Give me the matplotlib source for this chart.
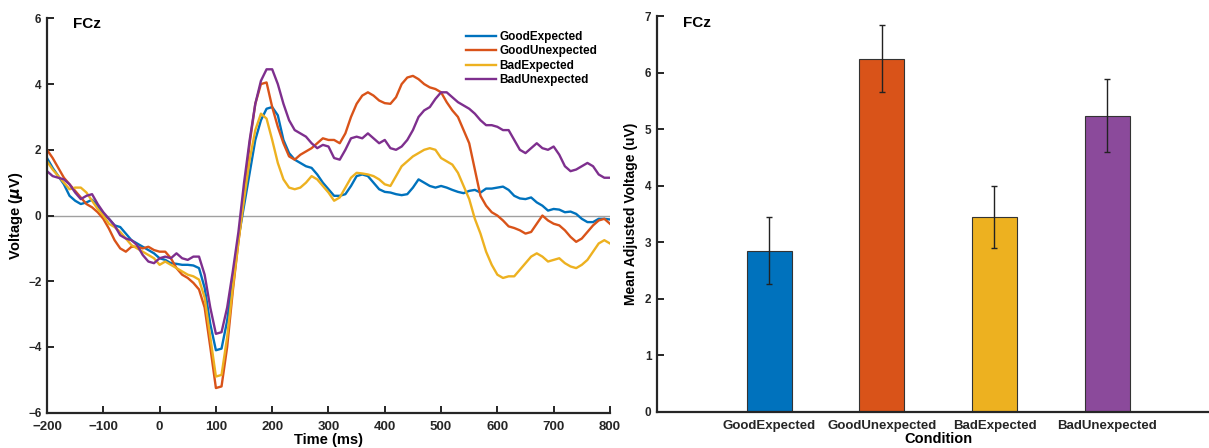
import numpy as np
import matplotlib
matplotlib.use("Agg")
import matplotlib.pyplot as plt

plt.rcParams['font.family'] = ['Liberation Sans', 'DejaVu Sans']
plt.rcParams['font.weight'] = 'bold'
plt.rcParams['axes.labelweight'] = 'bold'

# ERP waveforms at FCz, sampled every 10 ms
time_ms = list(range(-200, 810, 10))

good_expected = [
    1.75, 1.45, 1.2, 0.95, 0.6, 0.45, 0.35, 0.4, 0.48, 0.3,
    0.05, -0.1, -0.3, -0.35, -0.55, -0.75, -0.85, -0.95, -1.05, -1.15,
    -1.3, -1.35, -1.45, -1.47, -1.5, -1.5, -1.52, -1.6, -2.2, -3.3,
    -4.1, -4.05, -3.2, -1.9, -0.7, 0.3, 1.3, 2.3, 2.9, 3.25,
    3.3, 3.05, 2.3, 1.9, 1.7, 1.6, 1.5, 1.45, 1.25, 1.0,
    0.8, 0.6, 0.6, 0.65, 0.9, 1.2, 1.25, 1.2, 1.0, 0.8,
    0.72, 0.7, 0.65, 0.62, 0.65, 0.85, 1.1, 1.0, 0.9, 0.85,
    0.9, 0.85, 0.78, 0.72, 0.68, 0.75, 0.78, 0.7, 0.82, 0.82,
    0.85, 0.88, 0.78, 0.6, 0.52, 0.5, 0.55, 0.4, 0.3, 0.15,
    0.2, 0.18, 0.1, 0.12, 0.05, -0.1, -0.2, -0.2, -0.1, -0.1,
    -0.12,
]

good_unexpected = [
    2.0, 1.75, 1.45, 1.15, 0.95, 0.75, 0.55, 0.35, 0.25, 0.1,
    -0.1, -0.4, -0.75, -1.0, -1.1, -0.95, -0.95, -1.0, -0.95, -1.05,
    -1.1, -1.1, -1.3, -1.6, -1.8, -1.9, -2.05, -2.25, -2.8, -4.0,
    -5.25, -5.2, -4.0, -2.3, -0.8, 0.6, 2.2, 3.4, 4.0, 4.05,
    3.3, 2.7, 2.2, 1.8, 1.7, 1.85, 1.95, 2.05, 2.2, 2.35,
    2.3, 2.3, 2.2, 2.5, 3.0, 3.4, 3.65, 3.75, 3.65, 3.5,
    3.42, 3.4, 3.6, 4.0, 4.2, 4.25, 4.15, 4.0, 3.9, 3.85,
    3.75, 3.45, 3.2, 3.0, 2.6, 2.2, 1.4, 0.6, 0.3, 0.1,
    0.0, -0.15, -0.33, -0.38, -0.45, -0.55, -0.5, -0.25, 0.0, -0.15,
    -0.25, -0.3, -0.45, -0.65, -0.8, -0.7, -0.5, -0.3, -0.15, -0.1,
    -0.25,
]

bad_expected = [
    1.65, 1.4, 1.2, 1.0, 0.8, 0.85, 0.85, 0.7, 0.45, 0.2,
    0.0, -0.25, -0.35, -0.5, -0.7, -0.9, -1.0, -1.1, -1.2, -1.3,
    -1.5, -1.4, -1.5, -1.6, -1.7, -1.8, -1.85, -1.95, -2.5, -3.7,
    -4.9, -4.85, -3.7, -2.2, -0.8, 0.5, 1.7, 2.6, 3.1, 2.95,
    2.3, 1.6, 1.1, 0.85, 0.8, 0.85, 1.0, 1.2, 1.1, 0.9,
    0.7, 0.45, 0.55, 0.85, 1.15, 1.3, 1.28, 1.25, 1.2, 1.1,
    0.95, 0.9, 1.2, 1.5, 1.65, 1.8, 1.9, 2.0, 2.05, 2.0,
    1.75, 1.65, 1.55, 1.3, 0.9, 0.5, -0.1, -0.55, -1.1, -1.5,
    -1.8, -1.9, -1.85, -1.85, -1.65, -1.45, -1.25, -1.15, -1.25, -1.4,
    -1.35, -1.3, -1.45, -1.55, -1.6, -1.5, -1.35, -1.1, -0.85, -0.75,
    -0.85,
]

bad_unexpected = [
    1.35, 1.2, 1.15, 1.1, 0.95, 0.7, 0.5, 0.6, 0.65, 0.35,
    0.1, -0.1, -0.3, -0.6, -0.7, -0.75, -0.9, -1.2, -1.4, -1.45,
    -1.3, -1.25, -1.3, -1.15, -1.3, -1.35, -1.25, -1.25, -1.8, -2.8,
    -3.6, -3.55, -2.8, -1.7, -0.5, 1.0, 2.3, 3.4, 4.1, 4.45,
    4.45, 4.0, 3.4, 2.9, 2.6, 2.5, 2.4, 2.2, 2.05, 2.15,
    2.1, 1.75, 1.7, 2.0, 2.35, 2.4, 2.35, 2.5, 2.35, 2.2,
    2.3, 2.05, 2.0, 2.1, 2.3, 2.6, 3.0, 3.2, 3.3, 3.55,
    3.75, 3.75, 3.6, 3.45, 3.35, 3.25, 3.1, 2.9, 2.75, 2.75,
    2.7, 2.6, 2.6, 2.3, 2.0, 1.9, 2.05, 2.2, 2.05, 2.0,
    2.1, 1.85, 1.5, 1.35, 1.4, 1.5, 1.6, 1.5, 1.25, 1.15,
    1.15,
]

# bar chart: mean adjusted voltage per condition
conditions = ['GoodExpected', 'GoodUnexpected', 'BadExpected', 'BadUnexpected']
mean_voltage = [2.85, 6.25, 3.45, 5.24]
sem_voltage = [0.59, 0.60, 0.55, 0.65]

colors = ['#0072BD', '#D95319', '#EDB120', '#7E2F8E']
bar_colors = ['#0072BD', '#D95319', '#EDB120', '#8B4A9B']

fig = plt.figure(figsize=(12.09, 4.48), dpi=100)


def style_axes(ax):
    for side in ['top', 'right']:
        ax.spines[side].set_visible(False)
    for side in ['left', 'bottom']:
        ax.spines[side].set_linewidth(1.6)
        ax.spines[side].set_color('#262626')
    ax.tick_params(direction='in', length=5, width=1.4, color='#262626',
                   labelcolor='#262626')


# ---- left panel: waveforms ----
ax1 = fig.add_axes([0.0389, 0.0788, 0.4656, 0.8802])
ax1.axhline(0, color='#a0a0a0', lw=1.0, zorder=1)
series = [good_expected, good_unexpected, bad_expected, bad_unexpected]
for name, vals, c in zip(conditions, series, colors):
    ax1.plot(time_ms, vals, color=c, lw=1.7, label=name, zorder=2)
ax1.set_xlim(-200, 800)
ax1.set_ylim(-6, 6)
ax1.set_xticks(range(-200, 801, 100))
ax1.set_yticks(range(-6, 7, 2))
style_axes(ax1)
ax1.tick_params(axis='x', labelsize=9.5, pad=6)
ax1.tick_params(axis='y', labelsize=8.5, pad=4)
ax1.set_xlabel('Time (ms)', fontsize=10.5, labelpad=0)
ax1.set_ylabel(r'Voltage ($\mu$V)', fontsize=10.5, labelpad=2)
ax1.text(0.046, 1.004, 'FCz', transform=ax1.transAxes, fontsize=11,
         va='top', ha='left')
ax1.legend(loc='upper left', bbox_to_anchor=(0.745, 0.968), frameon=False,
           fontsize=8.5, handlelength=2.5, handletextpad=0.3,
           labelspacing=0.2, borderpad=0, borderaxespad=0)

# ---- right panel: bar chart ----
ax2 = fig.add_axes([0.5434, 0.081, 0.4653, 0.883])
x = np.arange(1, len(conditions) + 1)
ax2.bar(x, mean_voltage, width=0.4, color=bar_colors, edgecolor='#333333',
        linewidth=0.8, zorder=2)
ax2.errorbar(x, mean_voltage, yerr=sem_voltage, fmt='none', ecolor='#222222',
             elinewidth=1.0, capsize=2.5, capthick=1.0, zorder=3)
ax2.set_xlim(0, 5)
ax2.set_ylim(0, 7)
ax2.set_xticks(x)
ax2.set_xticklabels(conditions)
ax2.set_yticks(range(0, 8))
style_axes(ax2)
ax2.tick_params(axis='x', labelsize=9.5, pad=6)
ax2.tick_params(axis='y', labelsize=8.5, pad=4)
ax2.set_xlabel('Condition', fontsize=10.5, labelpad=0)
ax2.set_ylabel('Mean Adjusted Voltage (uV)', fontsize=10, labelpad=5)
ax2.text(0.047, 1.0, 'FCz', transform=ax2.transAxes, fontsize=11,
         va='top', ha='left')

fig.savefig('out.png', dpi=100)
